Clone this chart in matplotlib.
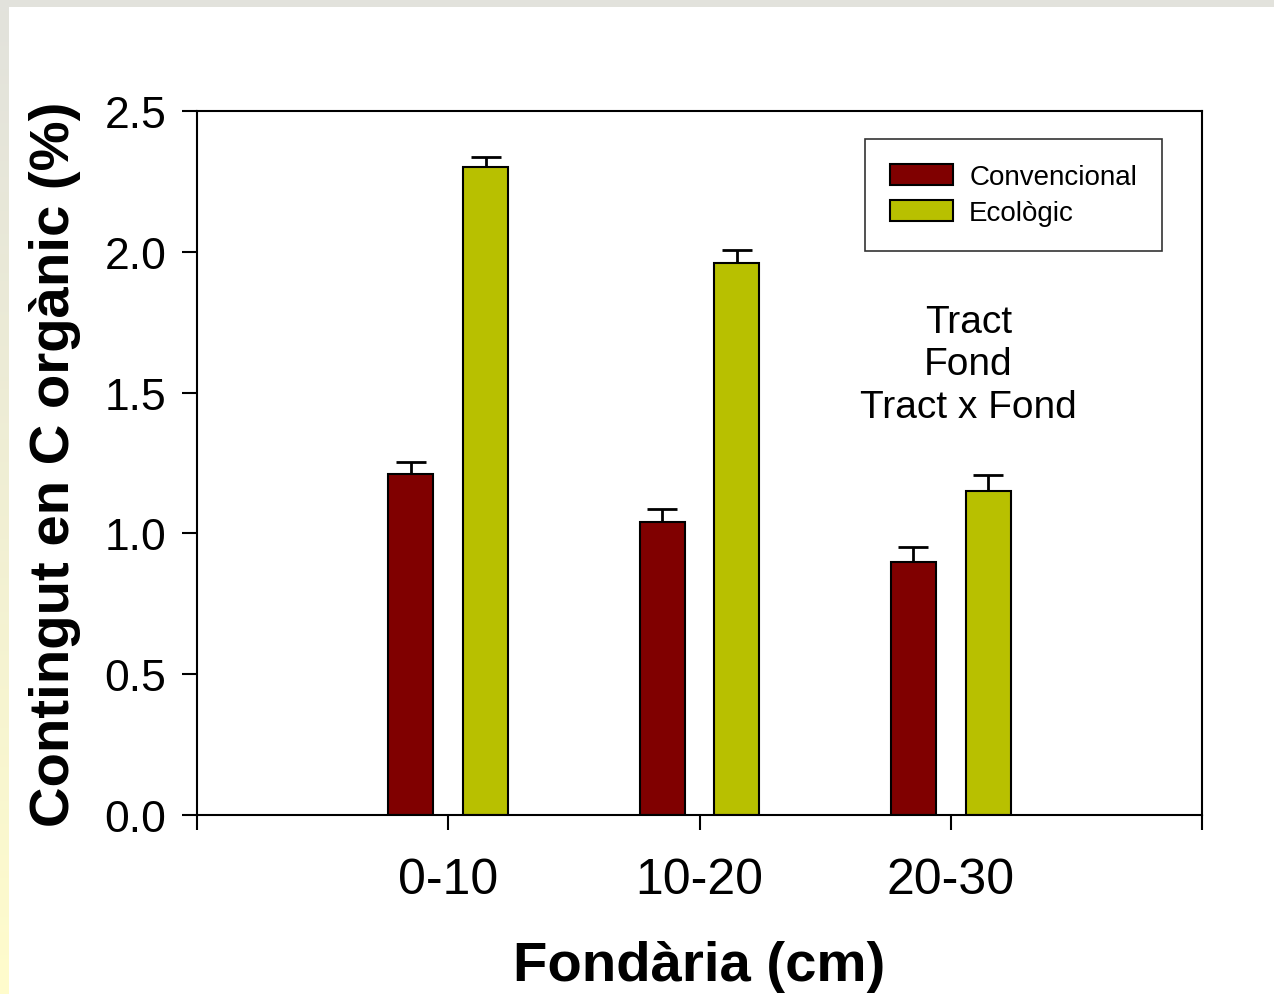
import matplotlib
matplotlib.use("Agg")
import matplotlib.pyplot as plt
import numpy as np
from matplotlib.patches import Patch

plt.rcParams['font.family'] = ['Liberation Sans', 'DejaVu Sans']

depths = ["0-10", "10-20", "20-30"]
convencional = [1.21, 1.04, 0.90]
convencional_err = [0.043, 0.047, 0.053]
ecologic = [2.30, 1.96, 1.15]
ecologic_err = [0.036, 0.046, 0.057]
series_names = ["Convencional", "Ecològic"]
yticks = [0.0, 0.5, 1.0, 1.5, 2.0, 2.5]

W, H = 1274, 995
fig = plt.figure(figsize=(W / 100, H / 100), dpi=100)
fig.patch.set_facecolor("white")

# decorative slide border: gray top strip, left strip fading gray->yellow
top = fig.add_axes([0, 1 - 8 / H, 1, 8 / H])
top.set_axis_off()
top.add_patch(plt.Rectangle((0, 0), 1, 1, color="#e2e2dc", transform=top.transAxes))
left = fig.add_axes([0, 0, 9 / W, 1 - 8 / H])
grad = np.linspace(0, 1, 256).reshape(-1, 1)
c0 = np.array([0xe2, 0xe2, 0xdc]) / 255
c1 = np.array([0xff, 0xfc, 0xcc]) / 255
img = c0[None, None, :] * (1 - grad[:, :, None]) + c1[None, None, :] * grad[:, :, None]
left.imshow(img, aspect="auto", extent=(0, 1, 0, 1), origin="upper")
left.set_axis_off()

ax = fig.add_axes([197 / W, 1 - 816 / H, (1202 - 197) / W, (816 - 112) / H])
x = np.arange(len(depths))
off = 0.149
bw = 0.179
ekw = dict(elinewidth=2, capthick=2)
cap = 11
ax.bar(x - off, convencional, width=bw, color="#800000", edgecolor="black", linewidth=1.5,
       label=series_names[0], zorder=2)
ax.bar(x + off, ecologic, width=bw, color="#b8c000", edgecolor="black", linewidth=1.5,
       label=series_names[1], zorder=2)
ax.errorbar(x - off, convencional, yerr=[np.zeros(3), convencional_err], fmt="none",
            ecolor="black", capsize=cap, zorder=1, **ekw)
ax.errorbar(x + off, ecologic, yerr=[np.zeros(3), ecologic_err], fmt="none",
            ecolor="black", capsize=cap, zorder=1, **ekw)

ax.set_xlim(-1, 3)
ax.set_ylim(0, 2.5)
ax.set_xticks([-1, 0, 1, 2, 3])
ax.set_xticklabels([""] + depths + [""])
ax.set_yticks(yticks)
ax.set_yticklabels([f"{v:.1f}" for v in yticks])
for s in ax.spines.values():
    s.set_linewidth(1.5)
ax.tick_params(axis="both", direction="out", length=11, width=1.5,
               top=False, right=False)
ax.tick_params(axis="x", labelsize=36, pad=19)
ax.tick_params(axis="y", labelsize=32, pad=11)

ax.set_xlabel("Fondària (cm)", fontsize=40.5, fontweight="bold", labelpad=27)
ax.set_ylabel("Contingut en C orgànic (%)", fontsize=40.5, fontweight="bold", labelpad=17)

ax.text(2.07, 1.60, "Tract\nFond\nTract x Fond", ha="center", va="center", fontsize=28,
        linespacing=1.245)

handles = [Patch(facecolor="#800000", edgecolor="black", linewidth=1.5),
           Patch(facecolor="#b8c000", edgecolor="black", linewidth=1.5)]
leg = ax.legend(handles, series_names, loc="upper right", bbox_to_anchor=(0.9602, 0.9602),
                fontsize=20, frameon=True, fancybox=False, edgecolor="black",
                handlelength=2.27, handleheight=0.76, borderpad=0.9, labelspacing=0.37,
                handletextpad=0.58, borderaxespad=0)
leg.get_frame().set_linewidth(1.2)

fig.savefig("out.png", dpi=100)
